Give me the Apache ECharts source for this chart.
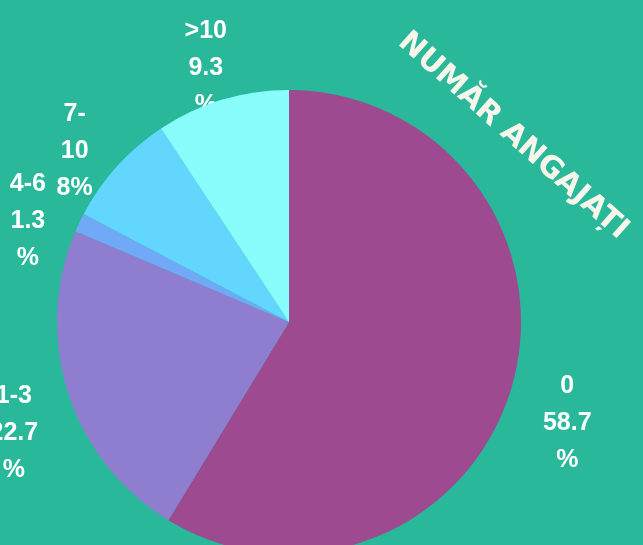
<!DOCTYPE html>
<html>
<head>
<meta charset="utf-8">
<script src="https://cdn.jsdelivr.net/npm/echarts@6/dist/echarts.min.js"></script>
<style>
  html, body { margin: 0; padding: 0; background: #29b899; }
  #main { width: 643px; height: 545px; }
</style>
</head>
<body>
<div id="main"></div>
<script>
// categorii si procente
var categories = ['0', '1-3', '4-6', '7-10', '>10'];
var percents = [58.7, 22.7, 1.3, 8, 9.3];
var colors = ['#9d4a91', '#8f7dd0', '#70a9f5', '#62d6fc', '#88fdfc'];

var chart = echarts.init(document.getElementById('main'), null, { renderer: 'canvas' });

function labelText(p) {
  var nm = p.name == '7-10' ? '7-\n10' : p.name;
  var pct = p.value + '%';
  if (pct.length <= 2) return nm + '\n' + pct;
  return nm + '\n' + p.value + '\n%';
}

var pieData = categories.map(function (c, i) {
  return { name: c, value: percents[i], itemStyle: { color: colors[i] } };
});

var option = {
  backgroundColor: '#29b899',
  animation: false,
  graphic: [{
    type: 'text',
    x: 513,
    y: 136,
    rotation: -41.5 * Math.PI / 180,
    style: {
      text: 'NUMĂR ANGAJAȚI',
      fill: '#f8f5ea',
      font: 'bold 30px "DejaVu Sans"',
      align: 'center',
      verticalAlign: 'middle'
    }
  }],
  series: [
    {
      // inel transparent doar pentru etichete (sub placinta)
      type: 'pie',
      z: 1,
      silent: true,
      center: [289, 345],
      radius: [274, 298],
      startAngle: 90,
      clockwise: true,
      itemStyle: { color: 'rgba(0,0,0,0)' },
      label: {
        show: true,
        position: 'inside',
        formatter: labelText,
        color: '#ffffff',
        fontFamily: 'Liberation Sans',
        fontWeight: 'bold',
        fontSize: 25,
        lineHeight: 37,
        align: 'center'
      },
      labelLine: { show: false },
      data: categories.map(function (c, i) {
        return { name: c, value: percents[i] };
      })
    },
    {
      type: 'pie',
      z: 2,
      silent: true,
      center: [289, 322],
      radius: 232,
      startAngle: 90,
      clockwise: true,
      label: { show: false },
      labelLine: { show: false },
      data: pieData
    }
  ]
};

chart.setOption(option);
</script>
</body>
</html>
